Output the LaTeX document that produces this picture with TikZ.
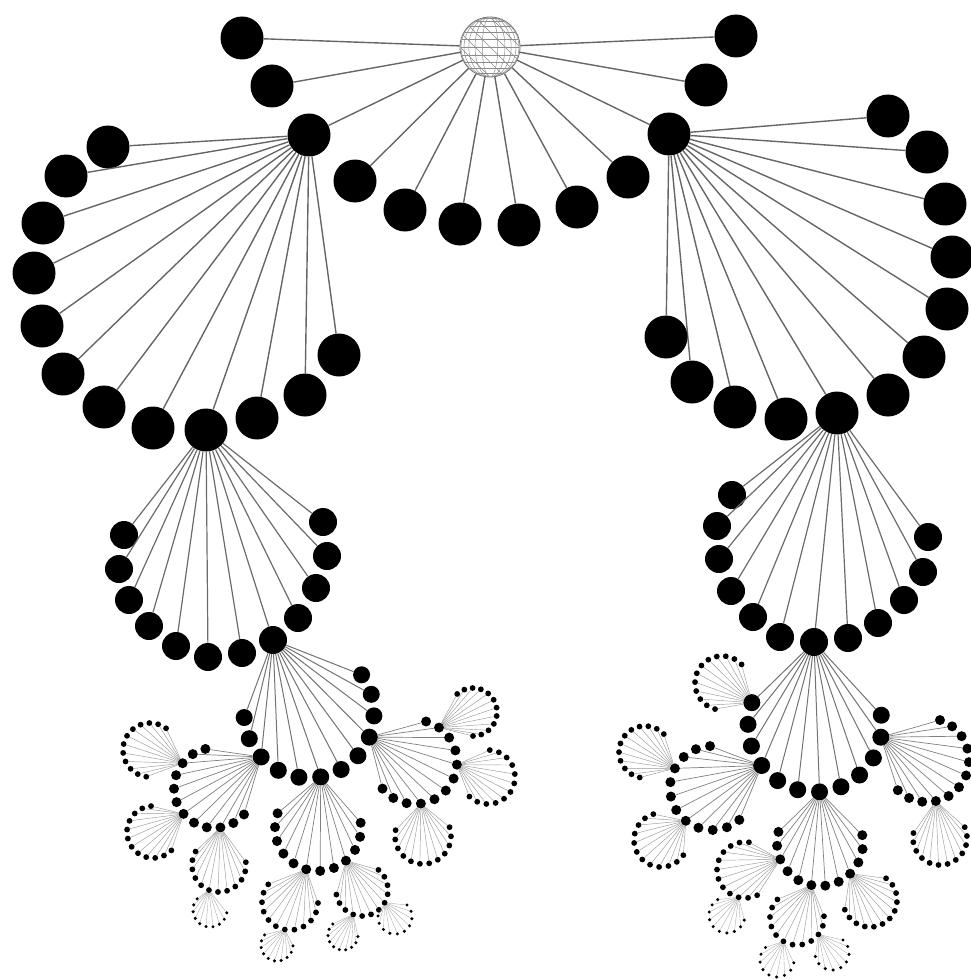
\documentclass[tikz,border=0pt]{standalone}
\usepackage{tikz}
\usetikzlibrary{calc}
\tikzset{
  hub/.style    = {circle, draw=black!55, line width=0.8pt, fill=white,
                   minimum size=60, inner sep=0pt},
  mesh/.style   = {line width=0.5pt, black!45},
  dotA/.style   = {circle, fill=black, minimum size=43, inner sep=0pt},
  dotB/.style   = {circle, fill=black, minimum size=28, inner sep=0pt},
  dotC/.style   = {circle, fill=black, minimum size=17, inner sep=0pt},
  dotD/.style   = {circle, fill=black, minimum size=10, inner sep=0pt},
  dotE/.style   = {circle, fill=black, minimum size=5.8, inner sep=0pt},
  dotF/.style   = {circle, fill=black, minimum size=3.4, inner sep=0pt},
  spokeA/.style = {line width=1.4pt, black!60},
  spokeB/.style = {line width=1.2pt, black!58},
  spokeC/.style = {line width=1pt, black!55},
  spokeD/.style = {line width=0.7pt, black!50},
  spokeE/.style = {line width=0.45pt, black!40},
  spokeF/.style = {line width=0.35pt, black!35}
}
% #1 root, #2 prefix, #3 centre, #4 radius, #5 first angle, #6 last angle,
% #7 count, #8 dot style, #9 spoke style
\newcommand{\drawfan}[9]{%
  \foreach \k in {1,...,#7}{%
    \pgfmathsetmacro{\ang}{(#5)+((#6)-(#5))*(\k-1)/(#7-1)}%
    \node[#8] (#2-\k) at ($(#3)+(\ang:#4)$) {};
    \draw[#9] (#1) -- (#2-\k);
  }%
}
\begin{document}
\begin{tikzpicture}[x=1pt,y=-1pt]
  \useasboundingbox (0,0) rectangle (970,979);
  \node[hub] (hub) at (490,47) {};
  % wire-frame of the hub
  \begin{scope}
    \clip (hub.center) circle (29.5);
    \foreach \m in {0,15,...,75}
      \draw[mesh] (hub.center) ellipse ({30*cos(\m)} and 30);
    \foreach \p in {-75,-60,...,75}
      \draw[mesh] ($(hub.center)+(-30,{30*sin(\p)})$) -- ++(60,0);
    \foreach \d in {-45,-30,...,45}
      \draw[mesh] ($(hub.center)+({\d-30},-30)$) -- ++(60,60);
  \end{scope}

  % first ring
  \foreach \x/\y [count=\k] in {242/38, 272/86, 309/135, 355/181, 405/210, 460/224,
                                519/225, 577/207, 628/177, 669/134, 706/85, 736/36} {
    \node[dotA] (t-\k) at (\x,\y) {};
    \draw[spokeA] (hub) -- (t-\k);
  }

  % second level
  \foreach \x/\y [count=\k] in {108/147, 66/176, 43/223, 34/273, 42/326, 63/374,
                                104/407, 153/428, 206/430, 257/418, 305/395, 339/355} {
    \node[dotA] (ll-\k) at (\x,\y) {};
    \draw[spokeA] (t-3) -- (ll-\k);
  }
  \foreach \x/\y [count=\k] in {888/116, 927/152, 945/204, 952/257, 947/309, 924/357,
                                888/395, 837/413, 786/419, 735/407, 692/382, 666/337} {
    \node[dotA] (lr-\k) at (\x,\y) {};
    \draw[spokeA] (t-10) -- (lr-\k);
  }

  % third level
  \foreach \x/\y [count=\k] in {124/535, 119/569, 129/600, 149/626, 176/646, 208/657,
                                242/653, 273/640, 298/618, 316/588, 327/556, 323/522} {
    \node[dotB] (ml-\k) at (\x,\y) {};
    \draw[spokeB] (ll-9) -- (ml-\k);
  }
  \foreach \x/\y [count=\k] in {732/495, 717/526, 719/559, 731/591, 753/617, 780/637,
                                814/642, 848/638, 878/623, 904/600, 923/572, 928/537} {
    \node[dotB] (mr-\k) at (\x,\y) {};
    \draw[spokeB] (lr-8) -- (mr-\k);
  }

  % left branch
  \drawfan{ml-8}{pl}{309,713}{65}{-36}{176}{12}{dotC}{spokeC}
  \drawfan{pl-10}{a}{214,788}{40}{257.6}{41.4}{12}{dotD}{spokeD}
  \drawfan{pl-7}{b}{318,828}{43}{-7}{200}{12}{dotD}{spokeD}
  \drawfan{pl-4}{c}{415,762}{42}{-74.7}{140.7}{12}{dotD}{spokeD}
  \drawfan{a-3}{aa}{150,750}{27}{-53.5}{-262}{12}{dotE}{spokeE}
  \drawfan{a-7}{ab}{153,832}{26}{265.6}{45}{12}{dotE}{spokeE}
  \drawfan{a-10}{ac}{219,865}{27}{210}{-6}{12}{dotE}{spokeE}
  \drawfan{ac-6}{aca}{210,910}{17}{221}{9.5}{10}{dotF}{spokeF}
  \drawfan{b-7}{ba}{290,902}{28}{219}{2}{12}{dotE}{spokeE}
  \drawfan{ba-7}{baa}{277,945}{16}{219}{3}{10}{dotF}{spokeF}
  \drawfan{b-4}{bb}{362,890}{26}{-50.7}{169.9}{12}{dotE}{spokeE}
  \drawfan{bb-9}{bba}{343,935}{15}{227}{6}{10}{dotF}{spokeF}
  \drawfan{bb-5}{bbb}{395,917}{17}{-45}{183.6}{10}{dotF}{spokeF}
  \drawfan{c-2}{ca}{473,712}{24}{228.8}{450}{12}{dotE}{spokeE}
  \drawfan{c-5}{cb}{488,777}{27}{273.8}{493.5}{12}{dotE}{spokeE}
  \drawfan{c-9}{cc}{423,836}{28}{-18.4}{192}{12}{dotE}{spokeE}

  % right branch
  \drawfan{mr-7}{pr}{815,725}{67}{199.5}{-8.4}{12}{dotC}{spokeC}
  \drawfan{pr-1}{ra}{722,683}{27}{-43.5}{-255}{12}{dotE}{spokeE}
  \drawfan{pr-4}{rb}{712,788}{42}{267.3}{49.4}{12}{dotD}{spokeD}
  \drawfan{pr-11}{rc}{927,760}{42}{-72}{134}{12}{dotD}{spokeD}
  \drawfan{pr-7}{rd}{820,843}{43}{195}{-10.5}{12}{dotD}{spokeD}
  \drawfan{rb-4}{rba}{645,752}{26}{-43.6}{-258.3}{12}{dotE}{spokeE}
  \drawfan{rb-8}{rbb}{661,840}{27}{253.5}{34.2}{12}{dotE}{spokeE}
  \drawfan{rc-9}{rca}{940,838}{27}{-23.7}{190.5}{12}{dotE}{spokeE}
  \drawfan{rd-3}{rda}{745,870}{28}{-81.9}{-295.7}{12}{dotE}{spokeE}
  \drawfan{rda-10}{rdaa}{727,915}{18}{239}{16.4}{10}{dotF}{spokeF}
  \drawfan{rd-9}{rdb}{870,900}{27}{-53.5}{159}{12}{dotE}{spokeE}
  \drawfan{rd-6}{rdc}{797,918}{27}{223.5}{-3.8}{12}{dotE}{spokeE}
  \drawfan{rdc-6}{rdca}{777,960}{17}{227.3}{9.5}{9}{dotF}{spokeF}
  \drawfan{rdc-10}{rdcb}{832,953}{17}{-49.8}{168}{9}{dotF}{spokeF}
\end{tikzpicture}
\end{document}
